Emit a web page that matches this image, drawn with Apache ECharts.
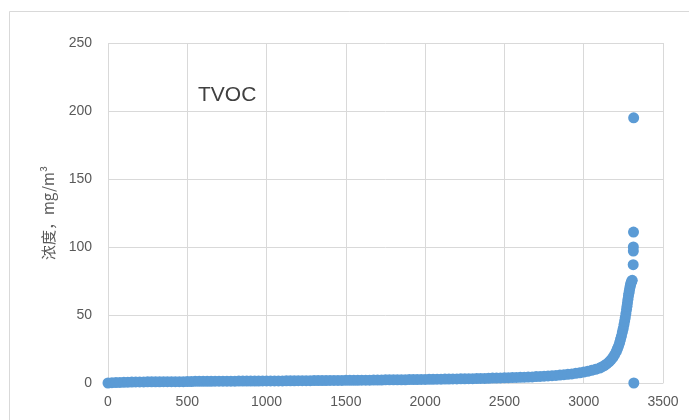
<!DOCTYPE html>
<html>
<head>
<meta charset="utf-8">
<script src="https://cdn.jsdelivr.net/npm/echarts@6/dist/echarts.min.js"></script>
<style>html,body{margin:0;padding:0;background:#fff;}#c{width:689px;height:420px;}</style>
</head>
<body>
<div id="c"></div>
<script>
// Sample index (sorted order) and TVOC concentration (mg/m3)
var sampleIndex = [
  0,25,50,75,100,125,150,175,200,225,250,275,300,325,350,375,400,425,450,475,
  500,525,550,575,600,625,650,675,700,725,750,775,800,825,850,875,900,925,950,975,
  1000,1025,1050,1075,1100,1125,1150,1175,1200,1225,1250,1275,1300,1325,1350,1375,1400,1425,1450,1475,
  1500,1525,1550,1575,1600,1625,1650,1675,1700,1725,1750,1775,1800,1825,1850,1875,1900,1925,1950,1975,
  2000,2025,2050,2075,2100,2125,2150,2175,2200,2225,2250,2275,2300,2325,2350,2375,2400,2425,2450,2475,
  2500,2525,2550,2575,2600,2625,2650,2675,2700,2725,2750,2775,2800,2825,2850,2875,2900,2925,2950,2975,
  3000,3025,3050,3075,3100,3115,3130,3145,3160,3172,3184,3195,3205,3212,3219,3226,3232,3238,3244,3249,
  3254,3258,3262,3266,3270,3273,3276,3279,3282,3285,3288,3291,3294,3297,3300,3303,3306,
  3312,3313,3313,3314,3315,3316
];
var tvoc = [
  0.0,0.2,0.3,0.4,0.5,0.6,0.7,0.8,0.8,0.8,0.9,0.9,0.9,0.9,1.0,1.0,1.0,1.0,1.0,1.0,
  1.1,1.1,1.2,1.2,1.2,1.2,1.2,1.3,1.3,1.3,1.3,1.3,1.3,1.4,1.4,1.4,1.4,1.4,1.4,1.5,
  1.5,1.5,1.5,1.5,1.5,1.6,1.6,1.6,1.7,1.7,1.7,1.7,1.8,1.8,1.8,1.8,1.9,1.9,1.9,1.9,
  2.0,2.0,2.0,2.0,2.1,2.1,2.1,2.2,2.2,2.2,2.3,2.3,2.3,2.4,2.4,2.4,2.5,2.5,2.5,2.6,
  2.6,2.7,2.7,2.8,2.8,2.9,2.9,3.0,3.0,3.1,3.1,3.2,3.2,3.3,3.4,3.4,3.5,3.6,3.6,3.7,
  3.8,3.9,4.0,4.1,4.2,4.3,4.4,4.5,4.7,4.8,5.0,5.2,5.4,5.6,5.8,6.1,6.4,6.7,7.1,7.5,
  8.0,8.6,9.3,10.1,11.0,11.8,12.8,14.0,15.5,17.0,18.8,20.8,23,25,27,29.5,32,34.5,37.5,40,
  43,45.5,48,51,54,56.5,59,61.5,64,66,68,70,71.5,73,74,75,75.5,
  87,97,100,111,195,0
];
var xTicks = [0, 3500, 500];   // min, max, interval
var yTicks = [0, 250, 50];

var pts = sampleIndex.map(function (x, i) { return [x, tvoc[i]]; });

var chart = echarts.init(document.getElementById('c'), null, {renderer: 'canvas'});
var grid = '#d9d9d9';
var txt = '#595959';
chart.setOption({
  animation: false,
  backgroundColor: '#ffffff',
  graphic: [
    {type: 'rect', shape: {x: 9.5, y: 11.5, width: 700, height: 420},
     style: {fill: 'none', stroke: '#d9d9d9', lineWidth: 1}, silent: true, z: -1},
    {type: 'text', left: 198, top: 85,
     style: {text: 'TVOC', fontSize: 21, fill: '#404040', fontFamily: 'Liberation Sans, Arial, sans-serif'}}
  ],
  grid: {left: 108, right: 26, top: 43, bottom: 37, containLabel: false},
  xAxis: {
    type: 'value', min: xTicks[0], max: xTicks[1], interval: xTicks[2],
    axisLine: {show: true, lineStyle: {color: grid}},
    axisTick: {show: false},
    splitLine: {show: true, lineStyle: {color: grid, width: 1}},
    axisLabel: {color: txt, fontSize: 14, margin: 12, fontFamily: 'Liberation Sans, Arial, sans-serif',
      formatter: function (v) { return String(v); }}
  },
  yAxis: {
    type: 'value', min: yTicks[0], max: yTicks[1], interval: yTicks[2],
    name: '浓度，mg/m³', nameLocation: 'middle', nameGap: 52, nameRotate: 90,
    nameTextStyle: {color: txt, fontSize: 15, fontFamily: 'Noto Sans CJK SC, Liberation Sans, sans-serif'},
    axisLine: {show: false},
    axisTick: {show: false},
    splitLine: {show: true, lineStyle: {color: grid, width: 1}},
    axisLabel: {color: txt, fontSize: 14, margin: 16, fontFamily: 'Liberation Sans, Arial, sans-serif',
      formatter: function (v) { return String(v); }}
  },
  series: [{
    type: 'scatter',
    data: pts,
    symbol: 'circle',
    symbolSize: 11,
    itemStyle: {color: '#5b9bd5', opacity: 1},
    large: false
  }]
});
</script>
</body>
</html>
